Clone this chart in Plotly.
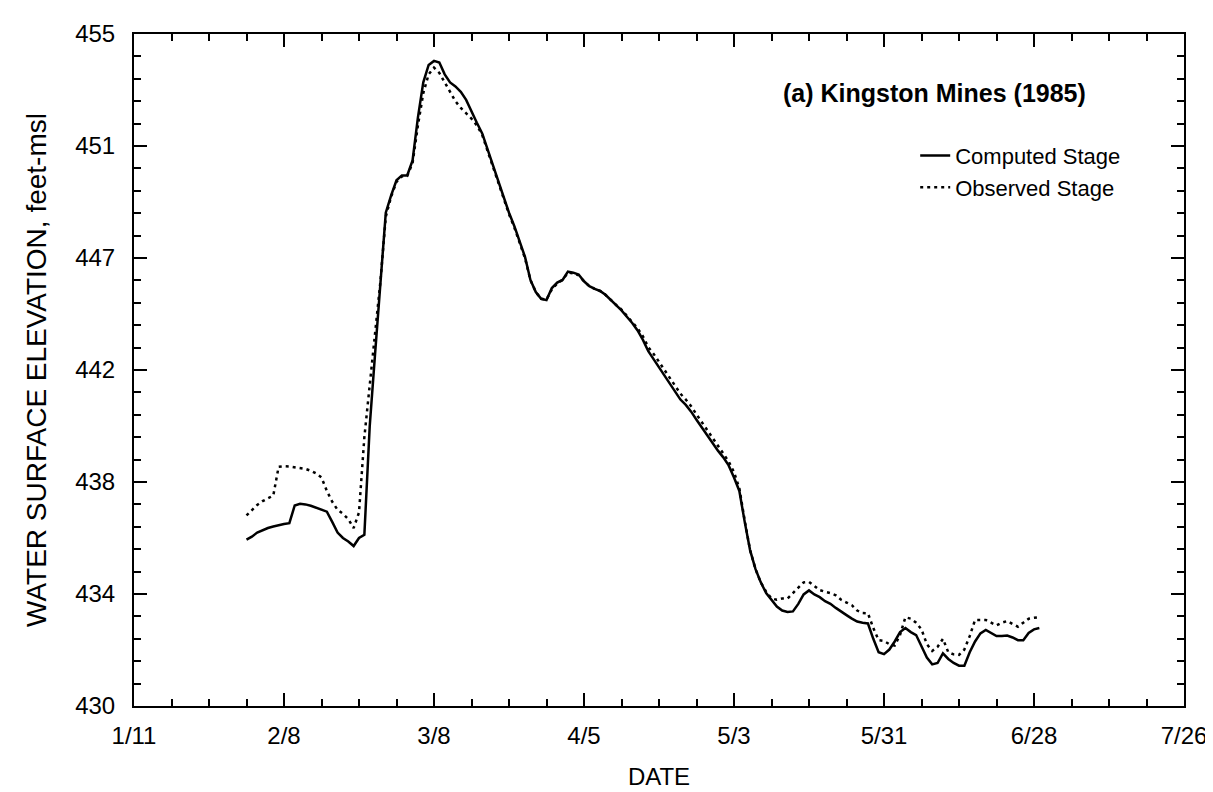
import pandas as pd
import plotly.graph_objects as go

# ---- data (daily stages, 1985) ----
start_date = "1985-02-01"
computed_stage = [
    436.19, 436.30, 436.45, 436.55, 436.62, 436.68, 436.73, 436.77, 436.80, 437.46,
    437.52, 437.50, 437.45, 437.38, 437.30, 437.23, 436.85, 436.45, 436.25, 436.12,
    435.95, 436.25, 436.37, 440.40, 443.10, 445.90, 448.35, 449.00, 449.56, 449.74,
    449.74, 450.30, 451.90, 453.20, 453.85, 454.00, 453.94, 453.50, 453.20, 453.05,
    452.85, 452.55, 452.10, 451.70, 451.30, 450.70, 450.10, 449.50, 448.90, 448.35,
    447.85, 447.30, 446.70, 445.85, 445.40, 445.15, 445.10, 445.55, 445.75, 445.85,
    446.16, 446.12, 446.05, 445.80, 445.62, 445.52, 445.44, 445.30, 445.10, 444.90,
    444.72, 444.48, 444.25, 443.97, 443.62, 443.20, 442.90, 442.60, 442.30, 442.00,
    441.70, 441.40, 441.20, 440.95, 440.65, 440.35, 440.10, 439.80, 439.50, 439.25,
    438.95, 438.50, 438.00, 436.85, 435.80, 435.10, 434.60, 434.20, 433.95, 433.70,
    433.55, 433.50, 433.52, 433.80, 434.15, 434.30, 434.15, 434.05, 433.90, 433.80,
    433.65, 433.50, 433.38, 433.25, 433.14, 433.10, 433.07, 432.50, 432.00, 431.93,
    432.10, 432.40, 432.75, 432.90, 432.75, 432.64, 432.25, 431.80, 431.55, 431.60,
    431.96, 431.75, 431.60, 431.50, 431.50, 432.00, 432.40, 432.70, 432.83, 432.70,
    432.60, 432.60, 432.62, 432.55, 432.45, 432.45, 432.72, 432.85, 432.90,
]
observed_stage = [
    437.09, 437.30, 437.48, 437.62, 437.72, 437.83, 438.90, 438.92, 438.91, 438.88,
    438.85, 438.82, 438.75, 438.65, 438.50, 438.00, 437.60, 437.30, 437.15, 436.95,
    436.62, 437.20, 440.00, 441.90, 443.70, 445.80, 448.20, 448.95, 449.50, 449.70,
    449.72, 450.20, 451.60, 452.80, 453.50, 453.75, 453.55, 453.20, 452.80, 452.50,
    452.25, 452.05, 451.85, 451.60, 451.25, 450.65, 450.05, 449.45, 448.85, 448.30,
    447.80, 447.25, 446.65, 445.85, 445.40, 445.15, 445.12, 445.50, 445.72, 445.85,
    446.12, 446.10, 446.02, 445.80, 445.62, 445.52, 445.44, 445.30, 445.10, 444.92,
    444.75, 444.52, 444.30, 444.05, 443.75, 443.35, 443.10, 442.80, 442.50, 442.20,
    441.95, 441.62, 441.40, 441.15, 440.85, 440.55, 440.30, 440.00, 439.70, 439.40,
    439.10, 438.70, 438.10, 436.90, 435.80, 435.10, 434.60, 434.25, 434.00, 433.95,
    434.00, 434.00, 434.20, 434.37, 434.60, 434.62, 434.45, 434.31, 434.25, 434.20,
    434.12, 433.95, 433.85, 433.75, 433.55, 433.46, 433.45, 432.90, 432.45, 432.42,
    432.30, 432.25, 432.65, 433.30, 433.25, 433.10, 432.85, 432.30, 432.05, 432.20,
    432.50, 432.00, 431.92, 431.90, 432.10, 432.60, 433.20, 433.20, 433.20, 433.10,
    433.00, 433.10, 433.16, 433.05, 432.95, 433.10, 433.25, 433.28, 433.30,
]
assert len(computed_stage) == len(observed_stage)
dates = pd.date_range(start_date, periods=len(computed_stage), freq="D")

x_tick_dates = ["1985-01-11", "1985-02-08", "1985-03-08", "1985-04-05",
                "1985-05-03", "1985-05-31", "1985-06-28", "1985-07-26"]
x_tick_labels = ["1/11", "2/8", "3/8", "4/5", "5/3", "5/31", "6/28", "7/26"]
y_min, y_max = 430, 455
y_tick_labels = ["430", "434", "438", "442", "447", "451", "455"]
y_tick_vals = [y_min + i * (y_max - y_min) / 6 for i in range(7)]

FONT = "Liberation Sans, Arial, Helvetica, sans-serif"

fig = go.Figure()
fig.add_trace(go.Scatter(
    x=dates, y=computed_stage, mode="lines", name="Computed Stage",
    line=dict(color="black", width=2.5),
))
fig.add_trace(go.Scatter(
    x=dates, y=observed_stage, mode="lines", name="Observed Stage",
    line=dict(color="black", width=2.5, dash="3px,4px"),
))

axis_common = dict(
    showline=True, linecolor="black", linewidth=2, mirror="ticks",
    ticks="inside", ticklen=13, tickwidth=2, tickcolor="black",
    showgrid=False, zeroline=False,
    tickfont=dict(family=FONT, size=24, color="black"),
)

fig.update_xaxes(
    type="date",
    range=[x_tick_dates[0], x_tick_dates[-1]],
    tickmode="array", tickvals=x_tick_dates, ticktext=x_tick_labels,
    minor=dict(ticks="inside", ticklen=7, tickwidth=1.5, tickcolor="black",
               dtick=7 * 86400000, tick0=x_tick_dates[0], showgrid=False),
    ticklabelstandoff=7,
    title=dict(text="DATE", font=dict(family=FONT, size=24, color="black"), standoff=20),
    **axis_common,
)
fig.update_yaxes(
    range=[y_min, y_max],
    tickmode="array", tickvals=y_tick_vals, ticktext=y_tick_labels,
    minor=dict(ticks="inside", ticklen=7, tickwidth=1.5, tickcolor="black",
               dtick=(y_max - y_min) / 30, tick0=y_min, showgrid=False),
    ticklabelstandoff=12,
    title=dict(text="WATER SURFACE ELEVATION, feet-msl",
               font=dict(family=FONT, size=28, color="black"), standoff=20),
    **axis_common,
)

fig.add_annotation(
    text="<b>(a) Kingston Mines (1985)</b>", xref="paper", yref="paper",
    x=0.762, y=0.9126, xanchor="center", yanchor="middle", showarrow=False,
    font=dict(family=FONT, size=25, color="black"),
)

fig.update_layout(
    width=1213, height=792,
    margin=dict(l=126, r=37, t=23, b=94),
    paper_bgcolor="white", plot_bgcolor="white",
    showlegend=True,
    legend=dict(x=0.744, y=0.85, xanchor="left", yanchor="top",
                bgcolor="rgba(0,0,0,0)", borderwidth=0,
                font=dict(family=FONT, size=22, color="black"),
                tracegroupgap=0),
)

fig.write_html("out.html")
